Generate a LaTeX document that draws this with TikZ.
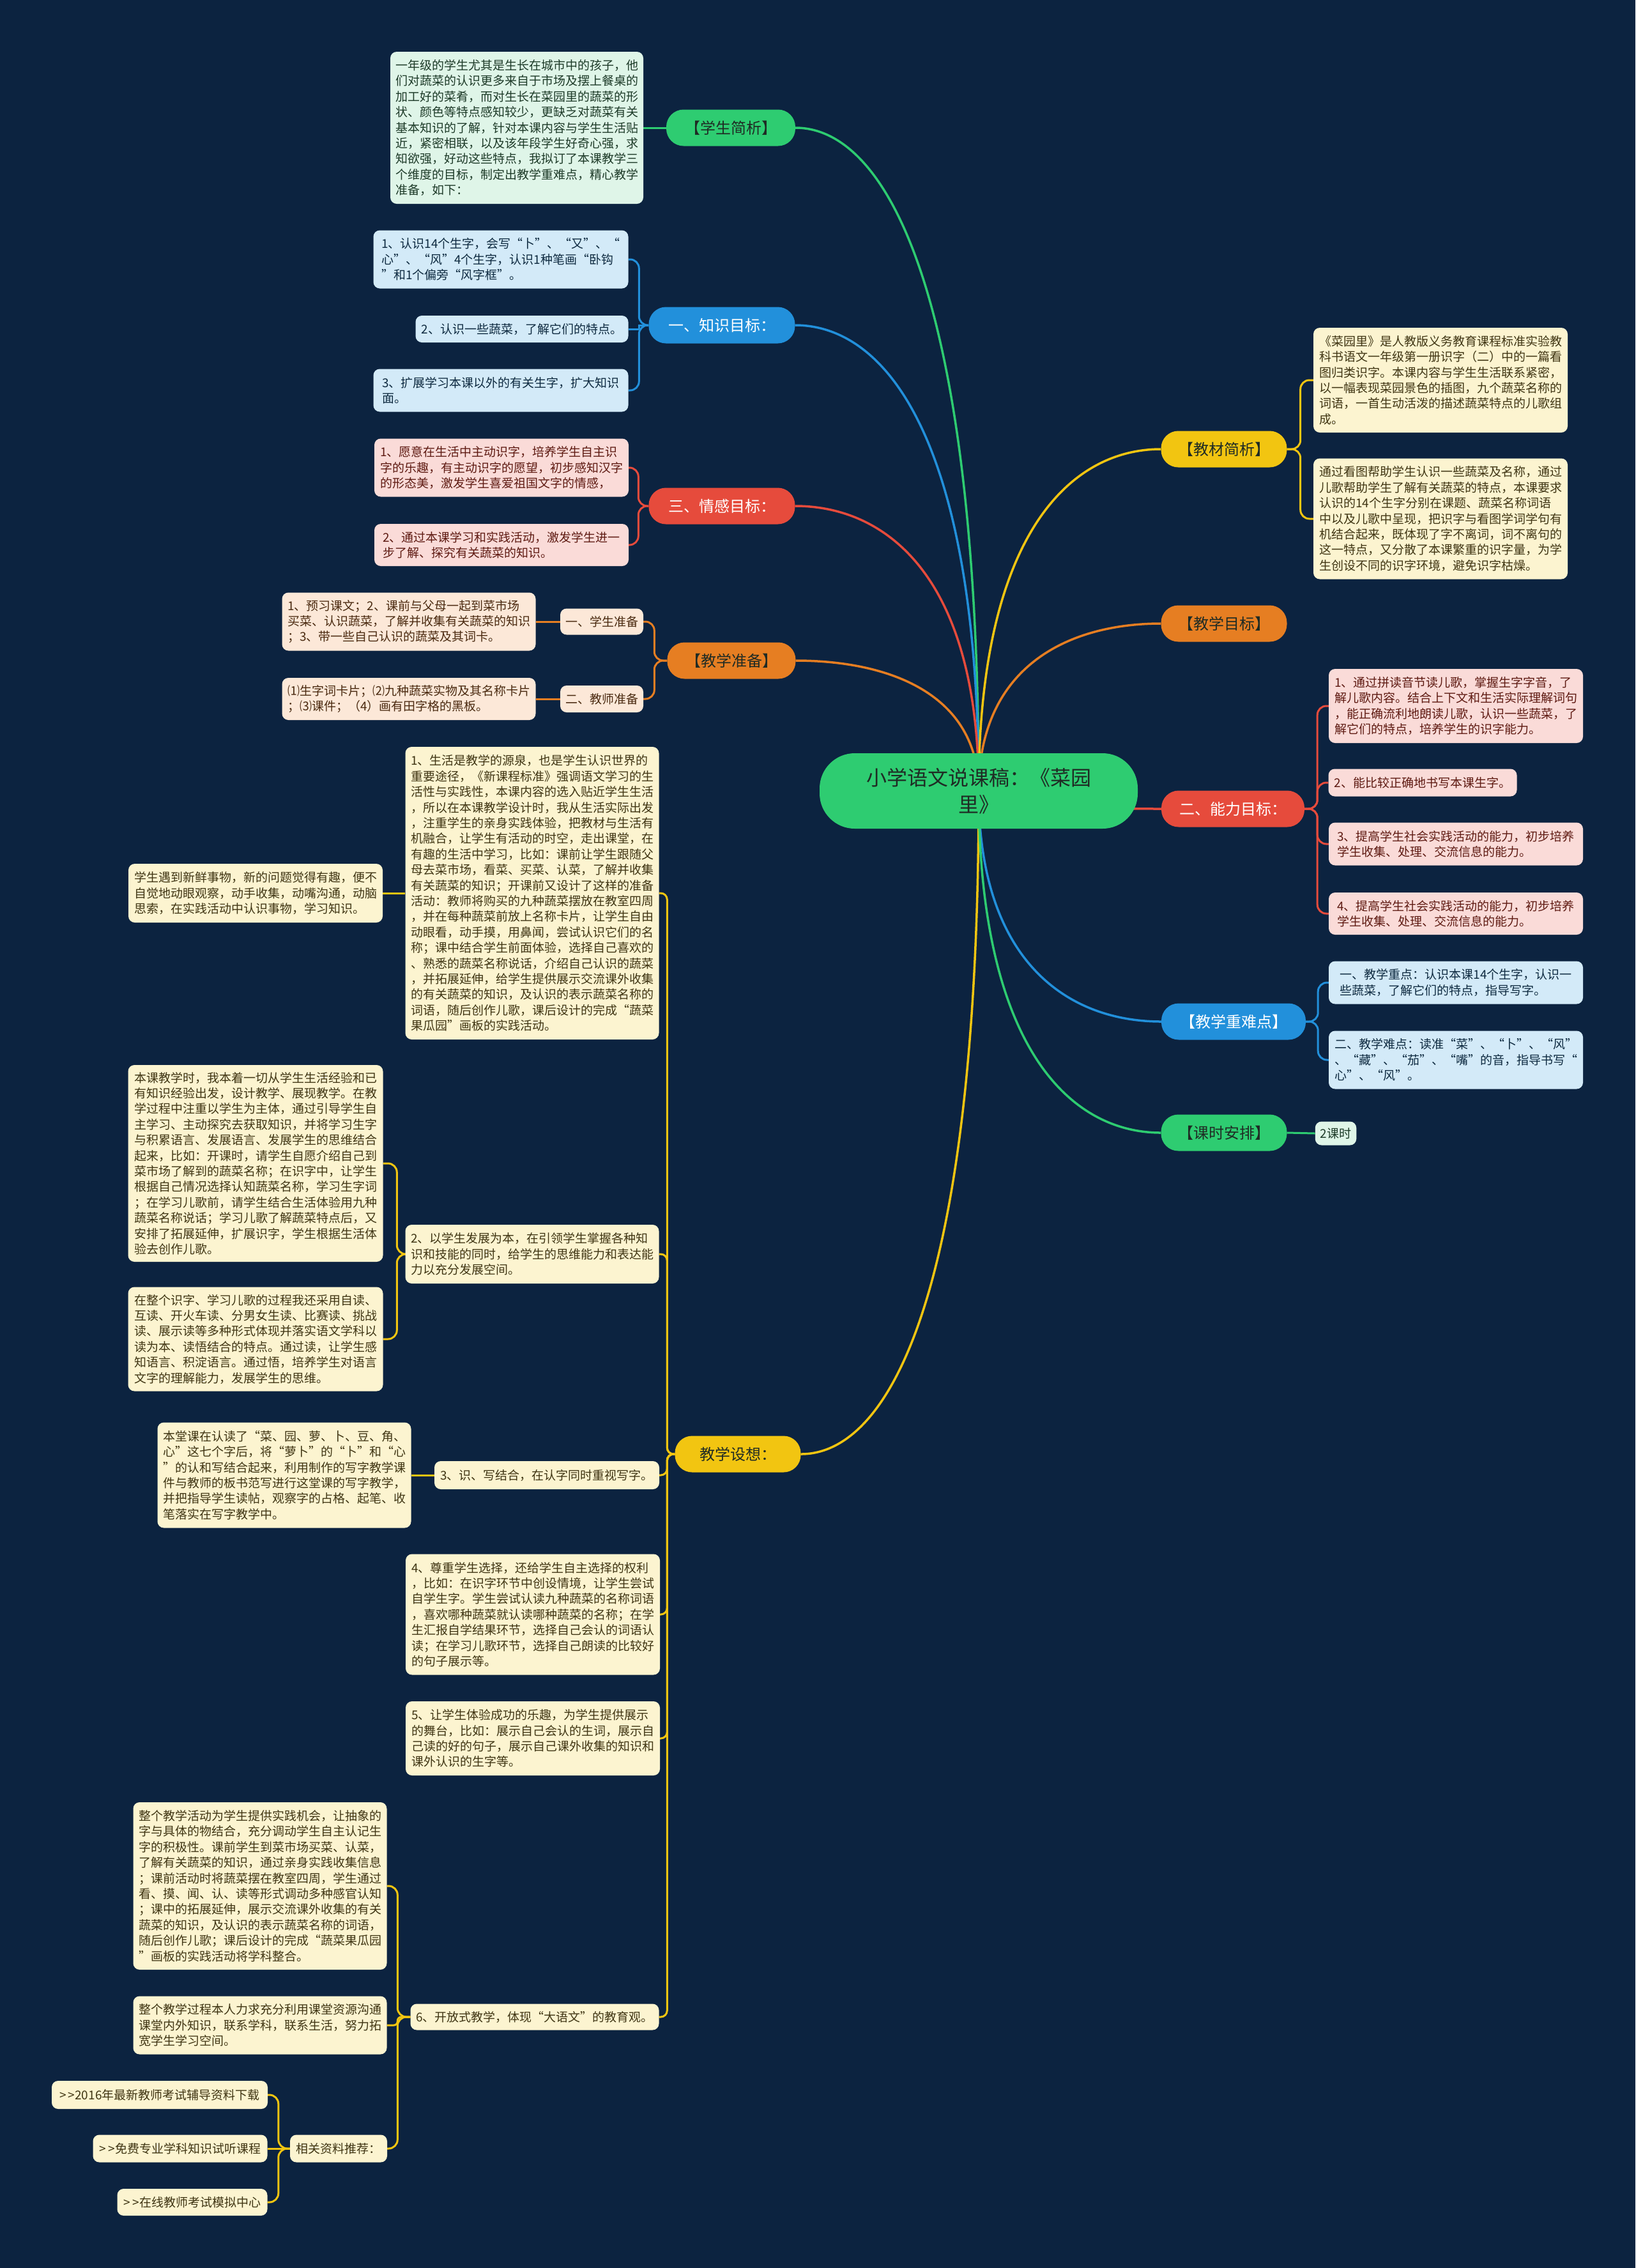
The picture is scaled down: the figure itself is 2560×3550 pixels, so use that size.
\documentclass[tikz,border=0pt]{standalone}
\usepackage{fontspec}
\setmainfont{Noto Sans CJK SC}
\usetikzlibrary{backgrounds}
\definecolor{bgc}{HTML}{0C2340}
\definecolor{cgreen}{HTML}{2ECC71}
\definecolor{cblue}{HTML}{2290DB}
\definecolor{cred}{HTML}{E64B3C}
\definecolor{corange}{HTML}{E67E22}
\definecolor{cyellow}{HTML}{F2C511}
\definecolor{lgreen}{HTML}{DFF5E8}
\definecolor{lblue}{HTML}{D3EAF8}
\definecolor{lred}{HTML}{FADBD8}
\definecolor{lorange}{HTML}{FCE8D8}
\definecolor{lyellow}{HTML}{FCF4D0}
\definecolor{tgreen}{HTML}{1D3A28}
\definecolor{tblue}{HTML}{0E2A40}
\definecolor{tred}{HTML}{5E1A12}
\definecolor{torange}{HTML}{4A2A10}
\definecolor{tyellow}{HTML}{3F3513}
\definecolor{dk}{HTML}{1F2B24}
\newcommand{\gtgt}{>\kern3pt>}
\tikzset{
  rootn/.style={fill=cgreen, rounded corners=55pt, minimum width=498pt, minimum height=118pt, align=center, text=dk, font=\fontsize{32}{42}\selectfont},
  br/.style={rounded corners=27pt, minimum height=57pt, inner xsep=14pt, font=\fontsize{24}{28}\selectfont},
  leaf/.style={rounded corners=10pt, align=left, inner xsep=8pt, inner ysep=6pt, font=\fontsize{19}{24.4}\selectfont},
  leafg/.style={leaf, fill=lgreen, text=tgreen},
  leafb/.style={leaf, fill=lblue, text=tblue},
  leafr/.style={leaf, fill=lred, text=tred},
  leafo/.style={leaf, fill=lorange, text=torange},
  leafy/.style={leaf, fill=lyellow, text=tyellow},
  mainln/.style={draw=#1, line width=3.5pt},
  subln/.style={draw=#1, line width=3pt, rounded corners=14pt}
}
\begin{document}
\begin{tikzpicture}[x=1pt,y=-1pt]
\useasboundingbox (0,0) rectangle (2560,3550);
\begin{scope}[on background layer]
  \fill[bgc] (0,0) rectangle (2560,3550);
\end{scope}

% root
\node[rootn] (root) at (1532,1238) {小学语文说课稿：《菜园\\里》};

% main branches
\node[br, fill=cgreen, text=dk, minimum width=202pt] (xsjx) at (1144,200) {【学生简析】};
\node[br, fill=cblue, text=white, minimum width=229pt] (zsmb) at (1130,509) {一、知识目标：};
\node[br, fill=cred, text=white, minimum width=229pt] (qgmb) at (1130,792) {三、情感目标：};
\node[br, fill=corange, text=dk, minimum width=201pt] (jxzb) at (1145,1034) {【教学准备】};
\node[br, fill=cyellow, text=dk, minimum width=197pt] (jxsx) at (1155,2276) {教学设想：};
\node[br, fill=cyellow, text=dk, minimum width=197pt] (jcjx) at (1916,703) {【教材简析】};
\node[br, fill=corange, text=dk, minimum width=197pt] (jxmb) at (1916,976) {【教学目标】};
\node[br, fill=cred, text=white, minimum width=224pt] (nlmb) at (1930,1266) {二、能力目标：};
\node[br, fill=cblue, text=white, minimum width=226pt] (zndd) at (1931,1599) {【教学重难点】};
\node[br, fill=cgreen, text=dk, minimum width=197pt] (ksap) at (1916,1773) {【课时安排】};

% 学生简析
\node[leafg, minimum width=396pt, minimum height=238pt] (a1) at (809,200) {一年级的学生尤其是生长在城市中的孩子，他\\们对蔬菜的认识更多来自于市场及摆上餐桌的\\加工好的菜肴，而对生长在菜园里的蔬菜的形\\状、颜色等特点感知较少，更缺乏对蔬菜有关\\基本知识的了解，针对本课内容与学生生活贴\\近，紧密相联，以及该年段学生好奇心强，求\\知欲强，好动这些特点，我拟订了本课教学三\\个维度的目标，制定出教学重难点，精心教学\\准备，如下：};

% 知识目标
\node[leafb, minimum width=399pt, minimum height=91pt] (k1) at (784,406) {1、认识14个生字，会写“卜”、“又”、“\\心”、“风”4个生字，认识1种笔画“卧钩\\”和1个偏旁“风字框”。};
\node[leafb, minimum width=333pt, minimum height=42pt] (k2) at (817,515) {2、认识一些蔬菜，了解它们的特点。};
\node[leafb, minimum width=399pt, minimum height=67pt] (k3) at (784,611) {3、扩展学习本课以外的有关生字，扩大知识\\面。};

% 情感目标
\node[leafr, minimum width=398pt, minimum height=91pt] (q1) at (785,732) {1、愿意在生活中主动识字，培养学生自主识\\字的乐趣，有主动识字的愿望，初步感知汉字\\的形态美，激发学生喜爱祖国文字的情感，};
\node[leafr, minimum width=398pt, minimum height=66pt] (q2) at (785,853) {2、通过本课学习和实践活动，激发学生进一\\步了解、探究有关蔬菜的知识。};

% 教学准备
\node[leafo, minimum width=130pt, minimum height=41pt] (s1) at (942,973) {一、学生准备};
\node[leafo, minimum width=130pt, minimum height=42pt] (s2) at (942,1094) {二、教师准备};
\node[leafo, minimum width=397pt, minimum height=91pt] (g1) at (640,973) {1、预习课文；2、课前与父母一起到菜市场\\买菜、认识蔬菜，了解并收集有关蔬菜的知识\\；3、带一些自己认识的蔬菜及其词卡。};
\node[leafo, minimum width=397pt, minimum height=66pt] (g2) at (640,1094) {⑴生字词卡片；⑵九种蔬菜实物及其名称卡片\\；⑶课件；（4）画有田字格的黑板。};

% 教学设想
\node[leafy, minimum width=397pt, minimum height=458pt] (t1) at (833,1398) {1、生活是教学的源泉，也是学生认识世界的\\重要途径，《新课程标准》强调语文学习的生\\活性与实践性，本课内容的选入贴近学生生活\\，所以在本课教学设计时，我从生活实际出发\\，注重学生的亲身实践体验，把教材与生活有\\机融合，让学生有活动的时空，走出课堂，在\\有趣的生活中学习，比如：课前让学生跟随父\\母去菜市场，看菜、买菜、认菜，了解并收集\\有关蔬菜的知识；开课前又设计了这样的准备\\活动：教师将购买的九种蔬菜摆放在教室四周\\，并在每种蔬菜前放上名称卡片，让学生自由\\动眼看，动手摸，用鼻闻，尝试认识它们的名\\称；课中结合学生前面体验，选择自己喜欢的\\、熟悉的蔬菜名称说话，介绍自己认识的蔬菜\\，并拓展延伸，给学生提供展示交流课外收集\\的有关蔬菜的知识，及认识的表示蔬菜名称的\\词语，随后创作儿歌，课后设计的完成“蔬菜\\果瓜园”画板的实践活动。};
\node[leafy, minimum width=398pt, minimum height=92pt] (t1a) at (400,1398) {学生遇到新鲜事物，新的问题觉得有趣，便不\\自觉地动眼观察，动手收集，动嘴沟通，动脑\\思索，在实践活动中认识事物，学习知识。};
\node[leafy, minimum width=397pt, minimum height=92pt] (t2) at (833,1963) {2、以学生发展为本，在引领学生掌握各种知\\识和技能的同时，给学生的思维能力和表达能\\力以充分发展空间。};
\node[leafy, minimum width=399pt, minimum height=308pt] (t2a) at (400,1821) {本课教学时，我本着一切从学生生活经验和已\\有知识经验出发，设计教学、展现教学。在教\\学过程中注重以学生为主体，通过引导学生自\\主学习、主动探究去获取知识，并将学习生字\\与积累语言、发展语言、发展学生的思维结合\\起来，比如：开课时，请学生自愿介绍自己到\\菜市场了解到的蔬菜名称；在识字中，让学生\\根据自己情况选择认知蔬菜名称，学习生字词\\；在学习儿歌前，请学生结合生活体验用九种\\蔬菜名称说话；学习儿歌了解蔬菜特点后，又\\安排了拓展延伸，扩展识字，学生根据生活体\\验去创作儿歌。};
\node[leafy, minimum width=399pt, minimum height=163pt] (t2b) at (400,2096) {在整个识字、学习儿歌的过程我还采用自读、\\互读、开火车读、分男女生读、比赛读、挑战\\读、展示读等多种形式体现并落实语文学科以\\读为本、读悟结合的特点。通过读，让学生感\\知语言、积淀语言。通过悟，培养学生对语言\\文字的理解能力，发展学生的思维。};
\node[leafy, minimum width=352pt, minimum height=44pt] (t3) at (856,2309) {3、识、写结合，在认字同时重视写字。};
\node[leafy, minimum width=397pt, minimum height=165pt] (t3a) at (445,2309) {本堂课在认读了“菜、园、萝、卜、豆、角、\\心”这七个字后，将“萝卜”的“卜”和“心\\”的认和写结合起来，利用制作的写字教学课\\件与教师的板书范写进行这堂课的写字教学，\\并把指导学生读帖，观察字的占格、起笔、收\\笔落实在写字教学中。};
\node[leafy, minimum width=398pt, minimum height=189pt] (t4) at (834,2527) {4、尊重学生选择，还给学生自主选择的权利\\，比如：在识字环节中创设情境，让学生尝试\\自学生字。学生尝试认读九种蔬菜的名称词语\\，喜欢哪种蔬菜就认读哪种蔬菜的名称；在学\\生汇报自学结果环节，选择自己会认的词语认\\读；在学习儿歌环节，选择自己朗读的比较好\\的句子展示等。};
\node[leafy, minimum width=398pt, minimum height=116pt] (t5) at (834,2721) {5、让学生体验成功的乐趣，为学生提供展示\\的舞台，比如：展示自己会认的生词，展示自\\己读的好的句子，展示自己课外收集的知识和\\课外认识的生字等。};
\node[leafy, minimum width=389pt, minimum height=41pt] (t6) at (837,3157) {6、开放式教学，体现“大语文”的教育观。};
\node[leafy, minimum width=397pt, minimum height=262pt] (t6a) at (407,2952) {整个教学活动为学生提供实践机会，让抽象的\\字与具体的物结合，充分调动学生自主认记生\\字的积极性。课前学生到菜市场买菜、认菜，\\了解有关蔬菜的知识，通过亲身实践收集信息\\；课前活动时将蔬菜摆在教室四周，学生通过\\看、摸、闻、认、读等形式调动多种感官认知\\；课中的拓展延伸，展示交流课外收集的有关\\蔬菜的知识，及认识的表示蔬菜名称的词语，\\随后创作儿歌；课后设计的完成“蔬菜果瓜园\\”画板的实践活动将学科整合。};
\node[leafy, minimum width=397pt, minimum height=91pt] (t6b) at (407,3170) {整个教学过程本人力求充分利用课堂资源沟通\\课堂内外知识，联系学科，联系生活，努力拓\\宽学生学习空间。};
\node[leafy, minimum width=152pt, minimum height=43pt] (t6c) at (530,3363) {相关资料推荐：};
\node[leafy, inner xsep=5pt, minimum width=338pt, minimum height=44pt] (r1) at (250,3279) {\gtgt{}2016年最新教师考试辅导资料下载};
\node[leafy, minimum width=273pt, minimum height=43pt] (r2) at (282,3363) {\gtgt{}免费专业学科知识试听课程};
\node[leafy, minimum width=235pt, minimum height=42pt] (r3) at (301,3447) {\gtgt{}在线教师考试模拟中心};

% 教材简析
\node[leafy, minimum width=398pt, minimum height=164pt] (m1) at (2255,595) {《菜园里》是人教版义务教育课程标准实验教\\科书语文一年级第一册识字（二）中的一篇看\\图归类识字。本课内容与学生生活联系紧密，\\以一幅表现菜园景色的插图，九个蔬菜名称的\\词语，一首生动活泼的描述蔬菜特点的儿歌组\\成。};
\node[leafy, minimum width=398pt, minimum height=189pt] (m2) at (2255,812) {通过看图帮助学生认识一些蔬菜及名称，通过\\儿歌帮助学生了解有关蔬菜的特点，本课要求\\认识的14个生字分别在课题、蔬菜名称词语\\中以及儿歌中呈现，把识字与看图学词学句有\\机结合起来，既体现了字不离词，词不离句的\\这一特点，又分散了本课繁重的识字量，为学\\生创设不同的识字环境，避免识字枯燥。};

% 能力目标
\node[leafr, minimum width=398pt, minimum height=116pt] (n1) at (2279,1105) {1、通过拼读音节读儿歌，掌握生字字音，了\\解儿歌内容。结合上下文和生活实际理解词句\\，能正确流利地朗读儿歌，认识一些蔬菜，了\\解它们的特点，培养学生的识字能力。};
\node[leafr, minimum width=295pt, minimum height=43pt] (n2) at (2227,1225) {2、能比较正确地书写本课生字。};
\node[leafr, minimum width=398pt, minimum height=67pt] (n3) at (2279,1321) {3、提高学生社会实践活动的能力，初步培养\\学生收集、处理、交流信息的能力。};
\node[leafr, minimum width=398pt, minimum height=66pt] (n4) at (2279,1430) {4、提高学生社会实践活动的能力，初步培养\\学生收集、处理、交流信息的能力。};

% 教学重难点
\node[leafb, minimum width=398pt, minimum height=67pt] (z1) at (2279,1538) {一、教学重点：认识本课14个生字，认识一\\些蔬菜，了解它们的特点，指导写字。};
\node[leafb, minimum width=398pt, minimum height=91pt] (z2) at (2279,1659) {二、教学难点：读准“菜”、“卜”、“风”\\、“藏”、“茄”、“嘴”的音，指导书写“\\心”、“风”。};

% 课时安排
\node[leafg, minimum width=63pt, minimum height=37pt] (kk) at (2091,1774) {2课时};

\begin{scope}[on background layer]
  % main connectors from root centre
  \draw[mainln=cgreen] (root.center) .. controls (1532,460) and (1388,200) .. (xsjx.east);
  \draw[mainln=cblue] (root.center) .. controls (1532,691) and (1388,509) .. (zsmb.east);
  \draw[mainln=cred] (root.center) .. controls (1532,904) and (1388,792) .. (qgmb.east);
  \draw[mainln=corange] (root.center) .. controls (1532,1085) and (1390,1034) .. (jxzb.east);
  \draw[mainln=cyellow] (root.center) .. controls (1532,2016) and (1395,2276) .. (jxsx.east);
  \draw[mainln=cyellow] (root.center) .. controls (1532,837) and (1675,703) .. (jcjx.west);
  \draw[mainln=corange] (root.center) .. controls (1532,1041) and (1675,976) .. (jxmb.west);
  \draw[mainln=cred] (root.center) .. controls (1532,1259) and (1675,1266) .. (nlmb.west);
  \draw[mainln=cblue] (root.center) .. controls (1532,1509) and (1675,1599) .. (zndd.west);
  \draw[mainln=cgreen] (root.center) .. controls (1532,1639) and (1675,1773) .. (ksap.west);

  % 学生简析
  \draw[subln=cgreen] (xsjx.west) -- (a1.east);
  % 知识目标
  \draw[subln=cblue] (zsmb.west) -- ++(-15,0) |- (k1.east);
  \draw[subln=cblue, rounded corners=0pt] (zsmb.west) -- ++(-15,0) |- (k2.east);
  \draw[subln=cblue] (zsmb.west) -- ++(-15,0) |- (k3.east);
  % 情感目标
  \draw[subln=cred] (qgmb.west) -- ++(-16,0) |- (q1.east);
  \draw[subln=cred] (qgmb.west) -- ++(-16,0) |- (q2.east);
  % 教学准备
  \draw[subln=corange] (jxzb.west) -- ++(-20,0) |- (s1.east);
  \draw[subln=corange] (jxzb.west) -- ++(-20,0) |- (s2.east);
  \draw[subln=corange] (s1.west) -- (g1.east);
  \draw[subln=corange] (s2.west) -- (g2.east);
  % 教学设想
  \foreach \c in {t1,t2,t3,t4,t5,t6}
    \draw[subln=cyellow, rounded corners=10pt] (jxsx.west) -- ++(-12,0) |- (\c.east);
  \draw[subln=cyellow] (t1.west) -- (t1a.east);
  \draw[subln=cyellow] (t2.west) -- ++(-13,0) |- (t2a.east);
  \draw[subln=cyellow] (t2.west) -- ++(-13,0) |- (t2b.east);
  \draw[subln=cyellow] (t3.west) -- (t3a.east);
  \draw[subln=cyellow] (t6.west) -- ++(-20,0) |- (t6a.east);
  \draw[subln=cyellow, rounded corners=6pt] (t6.west) -- ++(-20,0) |- (t6b.east);
  \draw[subln=cyellow] (t6.west) -- ++(-20,0) |- (t6c.east);
  \draw[subln=cyellow] (t6c.west) -- ++(-18,0) |- (r1.east);
  \draw[subln=cyellow] (t6c.west) -- (r2.east);
  \draw[subln=cyellow] (t6c.west) -- ++(-18,0) |- (r3.east);
  % 教材简析
  \draw[subln=cyellow] (jcjx.east) -- ++(21,0) |- (m1.west);
  \draw[subln=cyellow] (jcjx.east) -- ++(21,0) |- (m2.west);
  % 能力目标
  \draw[subln=cred] (nlmb.east) -- ++(20,0) |- (n1.west);
  \draw[subln=cred] (nlmb.east) -- ++(20,0) |- (n2.west);
  \draw[subln=cred] (nlmb.east) -- ++(20,0) |- (n3.west);
  \draw[subln=cred] (nlmb.east) -- ++(20,0) |- (n4.west);
  % 教学重难点
  \draw[subln=cblue] (zndd.east) -- ++(19,0) |- (z1.west);
  \draw[subln=cblue] (zndd.east) -- ++(19,0) |- (z2.west);
  % 课时安排
  \draw[subln=cgreen] (ksap.east) -- (kk.west);
\end{scope}
\end{tikzpicture}
\end{document}
